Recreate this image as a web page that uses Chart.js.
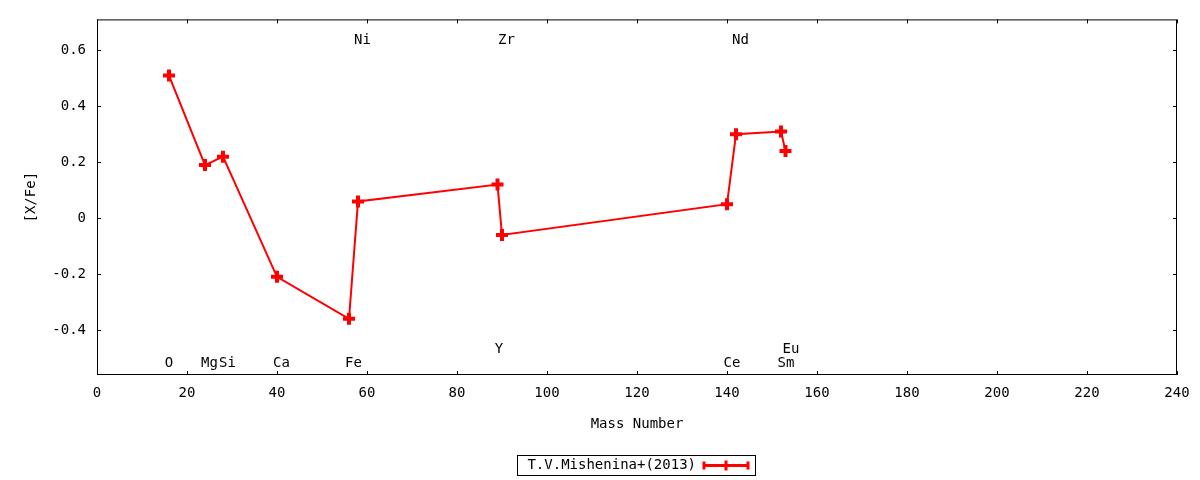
<!DOCTYPE html>
<html>
<head>
<meta charset="utf-8">
<title>[X/Fe] vs Mass Number</title>
<script src="https://cdn.jsdelivr.net/npm/chart.js@4"></script>
<style>
  body { margin: 0; background: #fff; }
  #wrap { width: 1200px; height: 480px; }
</style>
</head>
<body>
<div id="wrap"><canvas id="abundChart"></canvas></div>
<script>
// measured abundances, sorted by mass number
const massNumbers = [16, 24, 28, 40, 56, 58, 89, 90, 140, 142, 152, 153];
const xfeValues = [0.51, 0.19, 0.22, -0.21, -0.36, 0.06, 0.12, -0.06, 0.05, 0.30, 0.31, 0.24];

// element labels placed in data coordinates
const elemNames = ["O", "Mg", "Si", "Ca", "Fe", "Ni", "Y", "Zr", "Ce", "Nd", "Sm", "Eu"];
const elemLabelX = [16, 25, 29, 41, 57, 59, 89.3, 91, 141.1, 143, 153.1, 154.2];
const elemLabelY = [-0.52, -0.52, -0.52, -0.52, -0.52, 0.635, -0.47, 0.635, -0.52, 0.635, -0.52, -0.47];

const yTicks = [-0.4, -0.2, 0, 0.2, 0.4, 0.6];
const seriesName = "T.V.Mishenina+(2013)";

const FONT = "'DejaVu Sans Mono', monospace";
const FSIZE = 14;
const RED = "#ff0000";

// gnuplot-like frame: mirrored inward ticks, element labels, boxed legend
const gnuplotFrame = {
  id: 'gnuplotFrame',
  afterDraw(chart) {
    const { ctx, chartArea: a, scales: { x, y } } = chart;
    ctx.save();
    ctx.strokeStyle = "#000";
    ctx.lineWidth = 1;
    ctx.strokeRect(a.left + 0.5, a.top + 0.5, a.right - a.left - 1, a.bottom - a.top - 1);

    ctx.beginPath();
    x.ticks.forEach(t => {
      const px = Math.round(x.getPixelForValue(t.value)) + 0.5;
      ctx.moveTo(px, a.bottom); ctx.lineTo(px, a.bottom - 4);
      ctx.moveTo(px, a.top); ctx.lineTo(px, a.top + 4);
    });
    y.ticks.forEach(t => {
      const py = Math.round(y.getPixelForValue(t.value)) + 0.5;
      ctx.moveTo(a.left, py); ctx.lineTo(a.left + 4, py);
      ctx.moveTo(a.right, py); ctx.lineTo(a.right - 4, py);
    });
    ctx.stroke();

    // element names
    ctx.fillStyle = "#000";
    ctx.font = FSIZE + "px " + FONT;
    ctx.textAlign = "center";
    ctx.textBaseline = "middle";
    elemNames.forEach((n, i) => {
      ctx.fillText(n, x.getPixelForValue(elemLabelX[i]), y.getPixelForValue(elemLabelY[i]));
    });

    // legend box under the axis title
    const cx = (a.left + a.right) / 2;
    const bx = cx - 120, by = 455, bw = 238, bh = 20;
    ctx.strokeRect(bx + 0.5, by + 0.5, bw, bh);
    ctx.textAlign = "right";
    ctx.fillText(seriesName, bx + 179, by + 10.5);
    const sx0 = bx + 187, sx1 = bx + 231, sy = by + 10.5;
    ctx.strokeStyle = RED;
    ctx.lineWidth = 3;
    ctx.beginPath();
    ctx.moveTo(sx0, sy); ctx.lineTo(sx1, sy);
    ctx.moveTo(sx0, sy - 4); ctx.lineTo(sx0, sy + 4);
    ctx.moveTo(sx1, sy - 4); ctx.lineTo(sx1, sy + 4);
    const mx = (sx0 + sx1) / 2;
    ctx.moveTo(mx, sy - 5); ctx.lineTo(mx, sy + 5);
    ctx.stroke();
    ctx.restore();
  }
};

new Chart(document.getElementById('abundChart'), {
  type: 'line',
  data: {
    datasets: [{
      label: seriesName,
      data: massNumbers.map((m, i) => ({ x: m, y: xfeValues[i] })),
      borderColor: RED,
      backgroundColor: RED,
      borderWidth: 2,
      pointStyle: 'cross',
      pointRadius: 6,
      pointBorderWidth: 4,
      pointHoverRadius: 6,
      tension: 0
    }]
  },
  options: {
    responsive: true,
    maintainAspectRatio: false,
    animation: false,
    layout: { padding: { top: 17, right: 23, bottom: 45, left: 0 } },
    plugins: { legend: { display: false }, tooltip: { enabled: false } },
    scales: {
      x: {
        type: 'linear',
        min: 0,
        max: 240,
        ticks: { stepSize: 20, padding: 10, color: "#000", font: { family: FONT, size: FSIZE } },
        grid: { drawOnChartArea: false, drawTicks: false },
        border: { display: false },
        title: { display: true, text: "Mass Number", color: "#000", font: { family: FONT, size: FSIZE }, padding: { top: 0, bottom: 2 } },
        afterFit(scale) { scale.height = 60; }
      },
      y: {
        type: 'linear',
        min: -0.561,
        max: 0.711,
        afterBuildTicks(scale) { scale.ticks = yTicks.map(v => ({ value: v })); },
        ticks: {
          padding: 11,
          color: "#000",
          font: { family: FONT, size: FSIZE },
          callback: v => (Math.abs(v) < 1e-9 ? "0" : v.toFixed(1))
        },
        grid: { drawOnChartArea: false, drawTicks: false },
        border: { display: false },
        title: { display: true, text: "[X/Fe]", color: "#000", font: { family: FONT, size: FSIZE }, padding: { top: 23, bottom: 0 } },
        afterFit(scale) { scale.width = 97; }
      }
    }
  },
  plugins: [gnuplotFrame]
});
</script>
</body>
</html>
